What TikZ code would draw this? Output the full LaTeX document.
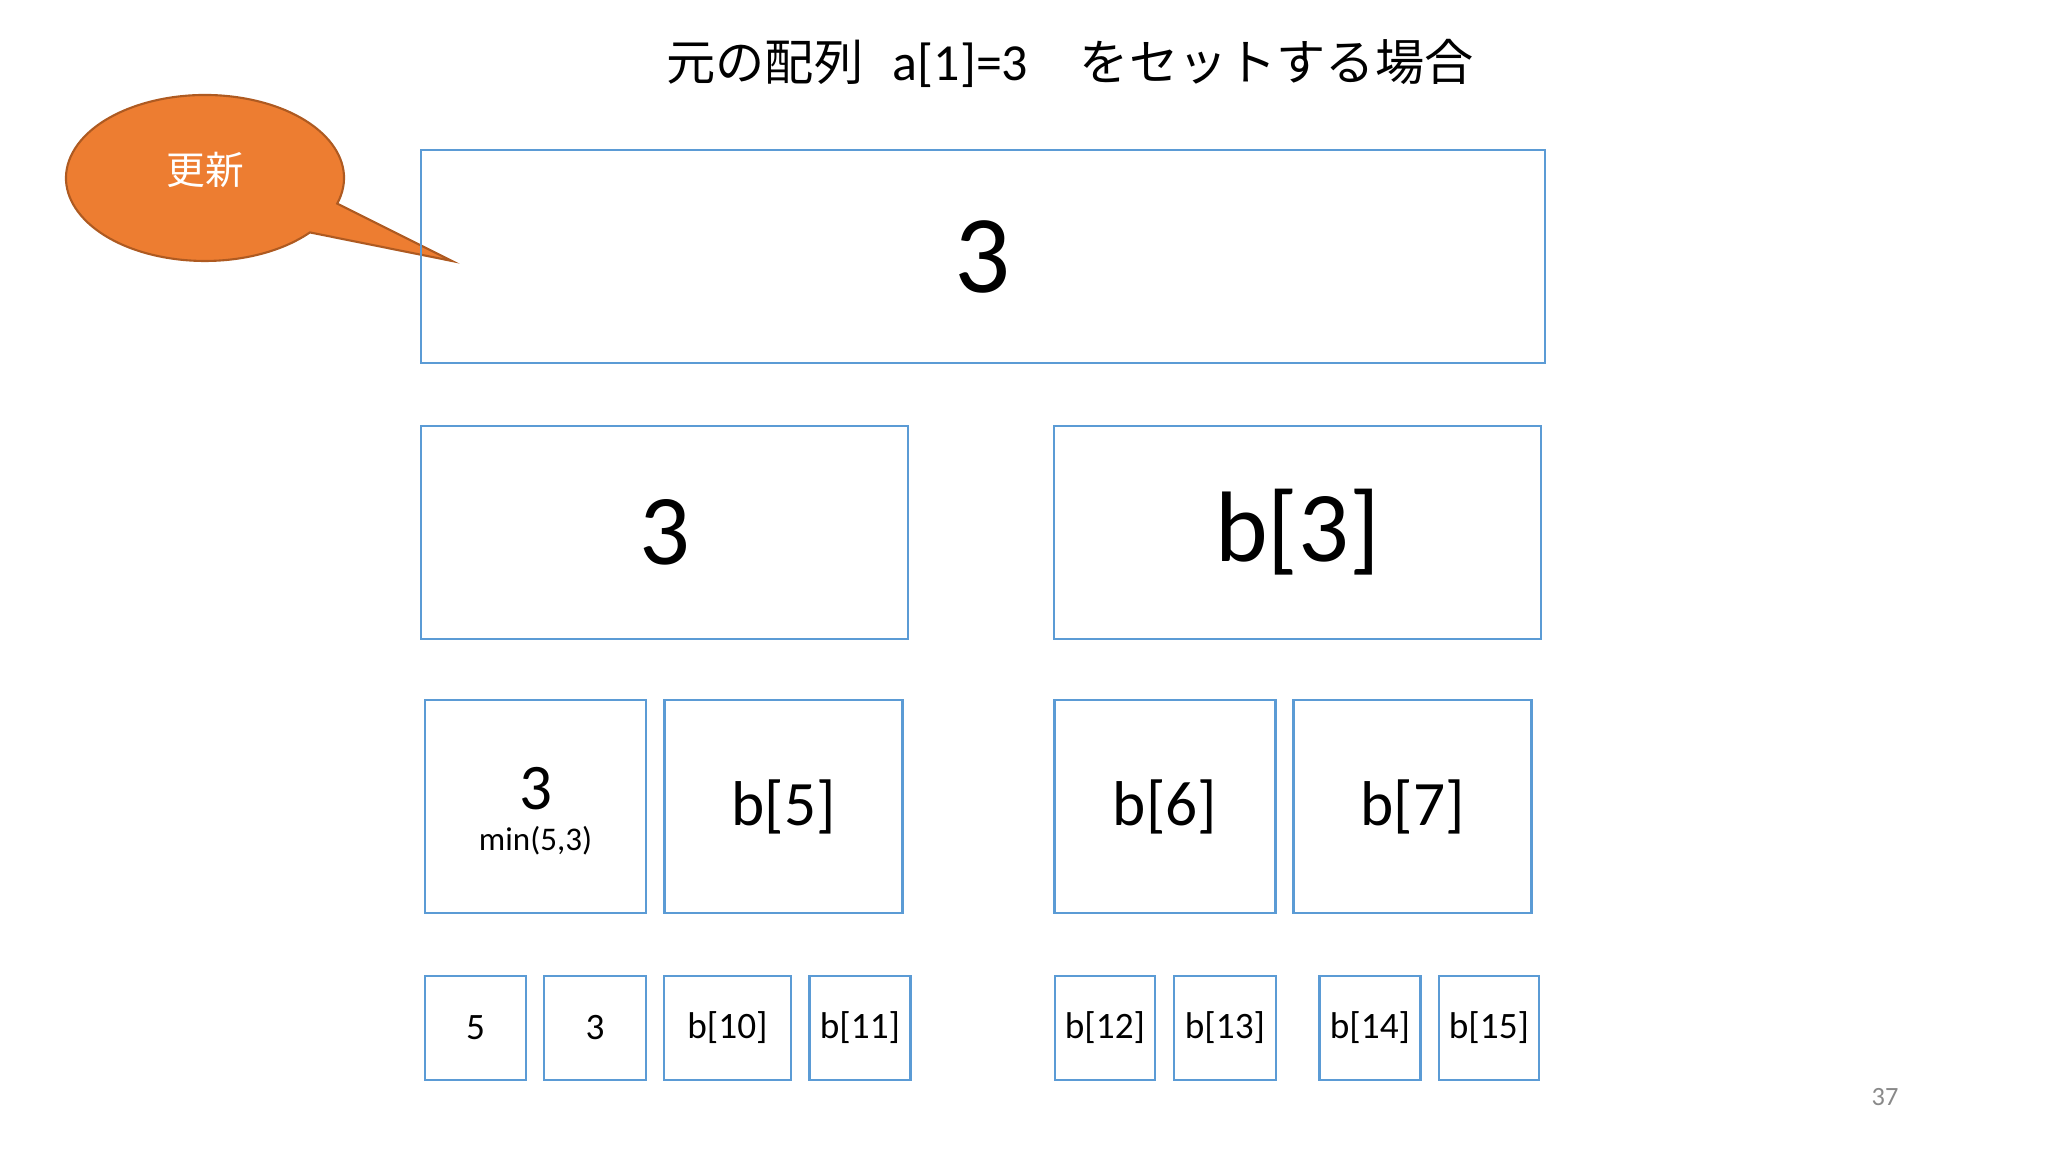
\documentclass[tikz,border=0pt]{standalone}
\usepackage{fontspec}
\setmainfont{Carlito}
\newfontfamily\jpfont{Noto Sans CJK JP}
\usetikzlibrary{positioning}
\definecolor{cellblue}{RGB}{91,155,213}
\definecolor{calloutorange}{RGB}{237,125,49}
\definecolor{calloutedge}{RGB}{174,90,33}
\definecolor{pagegray}{RGB}{137,137,137}

\begin{document}
\begin{tikzpicture}[
    cell/.style={draw=cellblue, line width=0.6pt, inner sep=0pt, minimum height=2.13cm},
    leafcell/.style={draw=cellblue, line width=0.6pt, inner sep=0pt, minimum height=1.04cm,
      font=\fontsize{10.6}{12}\selectfont}
  ]
    \useasboundingbox (0,0) rectangle (20.48,11.52);

    % title
    \node (title) at (10.7,10.89) {\fontsize{14}{16}\selectfont
      \jpfont 元の配列\hspace{0.6em}{\normalfont\fontsize{14.8}{16}\selectfont a[1]=3}\hspace{1.05em}\jpfont をセットする場合};

    % speech bubble
    \coordinate (tip) at (4.52,8.91);
    \draw[fill=calloutorange, draw=calloutedge, line width=0.6pt]
      (2.05,9.74) ++(-18:1.39cm and 0.83cm)
      arc[start angle=-18, end angle=319, x radius=1.39cm, y radius=0.83cm]
      -- (tip) -- cycle;
    \node[text=white] (upd) at (2.05,9.82) {\fontsize{11}{13}\selectfont\jpfont 更新};

    % root
    \node[cell, minimum width=11.24cm] (n1) at (9.83,8.955) {\fontsize{31.5}{36}\selectfont 3};

    % level 2
    \node[cell, minimum width=4.87cm] (n2) at (6.645,6.195) {\fontsize{28.5}{32}\selectfont 3};
    \node[cell, minimum width=4.87cm] (n3) at (12.975,6.195) {\fontsize{28.5}{32}\selectfont b[3]};

    % level 3
    \node[cell, minimum width=2.21cm] (n4) at (5.355,3.455) {};
    \node (n4val) at ([yshift=0.18cm]n4.center) {\fontsize{18.5}{22}\selectfont 3};
    \node (n4note) at ([yshift=-0.34cm]n4.center) {\fontsize{9.4}{11}\selectfont min(5,3)};
    \node[cell, minimum width=2.38cm] (n5) at (7.835,3.455) {\fontsize{18}{22}\selectfont b[5]};
    \node[cell, minimum width=2.21cm] (n6) at (11.65,3.455) {\fontsize{18}{22}\selectfont b[6]};
    \node[cell, minimum width=2.38cm] (n7) at (14.125,3.455) {\fontsize{18}{22}\selectfont b[7]};

    % leaves
    \node[leafcell, minimum width=1.01cm] (n8) at (4.755,1.24) {5};
    \node[leafcell, minimum width=1.02cm] (n9) at (5.95,1.24) {3};
    \node[leafcell, minimum width=1.27cm] (n10) at (7.275,1.24) {b[10]};
    \node[leafcell, minimum width=1.01cm] (n11) at (8.6,1.24) {b[11]};
    \node[leafcell, minimum width=1.00cm] (n12) at (11.05,1.24) {b[12]};
    \node[leafcell, minimum width=1.02cm] (n13) at (12.25,1.24) {b[13]};
    \node[leafcell, minimum width=1.01cm] (n14) at (13.7,1.24) {b[14]};
    \node[leafcell, minimum width=1.00cm] (n15) at (14.89,1.24) {b[15]};

    % slide number
    \node[text=pagegray] (page) at (18.85,0.55) {\fontsize{7.5}{9}\selectfont 37};
\end{tikzpicture}
\end{document}
